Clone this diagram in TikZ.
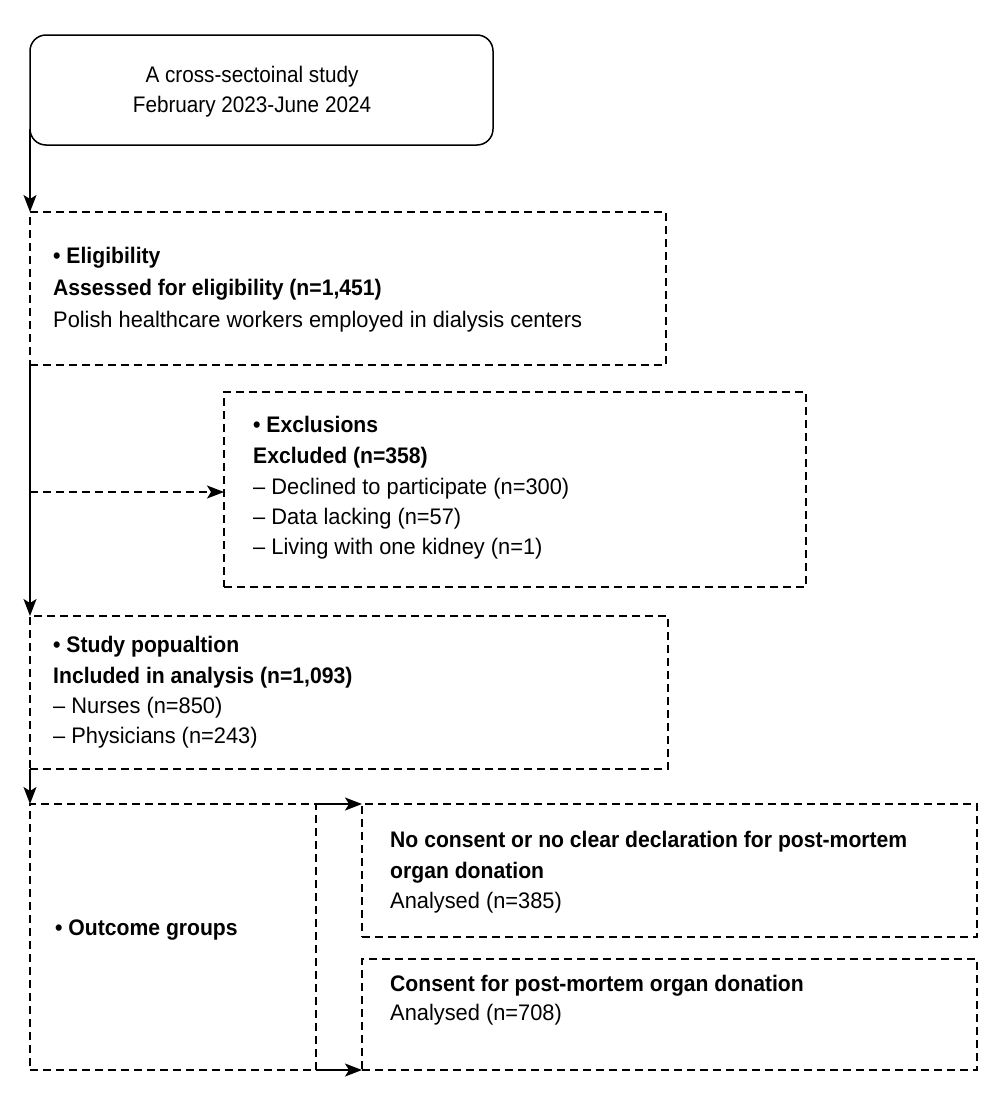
\documentclass[tikz,border=0pt]{standalone}
\usepackage{fontspec}
\setmainfont{Liberation Sans}[FakeStretch=0.97]
\newfontfamily\boldfam{Liberation Sans}[FakeStretch=0.94]
\newfontfamily\topfam{Liberation Sans}[FakeStretch=0.92]
\usetikzlibrary{arrows.meta}
\begin{document}
\begin{tikzpicture}[x=1pt,y=-1pt,
  box/.style={draw, rectangle, dash pattern=on 8pt off 5pt, line width=1.5pt,
    inner sep=0pt, outer sep=0pt, anchor=north west},
  startbox/.style={draw, rectangle, rounded corners=16pt, line width=1.5pt,
    inner sep=0pt, outer sep=0pt, anchor=north west},
  arr/.style={line width=1.5pt, -{Stealth[length=17pt,width=13pt,inset=4pt]}},
  dasharr/.style={arr, dash pattern=on 8pt off 5pt},
  txt/.style={anchor=base west, inner sep=0pt, font=\fontsize{22.5}{27}\selectfont},
  btxt/.style={txt, font=\boldfam\fontsize{22.5}{27}\selectfont\bfseries},
  ctxt/.style={txt, anchor=base, font=\topfam\fontsize{22.5}{27}\selectfont}]
\useasboundingbox (0,0) rectangle (1000,1111);
% boxes
\node[startbox, minimum width=463pt, minimum height=110pt] (top) at (30,35) {};
\node[box, minimum width=636pt, minimum height=153pt] (elig) at (30,212) {};
\node[box, minimum width=582pt, minimum height=195pt] (excl) at (224,392) {};
\node[box, minimum width=638pt, minimum height=153pt] (pop) at (30,616) {};
\node[box, minimum width=286pt, minimum height=266pt] (out) at (30,804) {};
\node[box, minimum width=615pt, minimum height=133pt] (ga) at (362,804) {};
\node[box, minimum width=615pt, minimum height=111pt] (gb) at (362,959) {};
% texts
\node[ctxt] (t1) at (252,82) {A cross-sectoinal study};
\node[ctxt] (t2) at (252,112) {February 2023-June 2024};
\node[btxt] (e1) at (53,263) {• Eligibility};
\node[btxt] (e2) at (53,295) {Assessed for eligibility (n=1,451)};
\node[txt] (e3) at (53,327) {Polish healthcare workers employed in dialysis centers};
\node[btxt] (x1) at (253,432) {• Exclusions};
\node[btxt] (x2) at (253,463) {Excluded (n=358)};
\node[txt] (x3) at (253,494) {– Declined to participate (n=300)};
\node[txt] (x4) at (253,524) {– Data lacking (n=57)};
\node[txt] (x5) at (253,554) {– Living with one kidney (n=1)};
\node[btxt] (p1) at (53,652) {• Study popualtion};
\node[btxt] (p2) at (53,683) {Included in analysis (n=1,093)};
\node[txt] (p3) at (53,713) {– Nurses (n=850)};
\node[txt] (p4) at (53,743) {– Physicians (n=243)};
\node[btxt] (o1) at (55,935) {• Outcome groups};
\node[btxt] (a1) at (390,847) {No consent or no clear declaration for post-mortem};
\node[btxt] (a2) at (390,878) {organ donation};
\node[txt] (a3) at (390,908) {Analysed (n=385)};
\node[btxt] (b1) at (390,991) {Consent for post-mortem organ donation};
\node[txt] (b2) at (390,1020) {Analysed (n=708)};
% connectors
\coordinate (s0) at ([yshift=16pt]top.south west);
\draw[arr] (s0) -- (elig.north west);
\draw[arr] (elig.south west) -- (pop.north west);
\coordinate (br) at (30,492);
\draw[dasharr] (br) -- (br -| excl.west);
\draw[arr] (pop.south west) -- (out.north west);
\draw[arr] (out.north east) -- (ga.north west);
\draw[arr] (out.south east) -- (gb.south west);
\end{tikzpicture}
\end{document}
